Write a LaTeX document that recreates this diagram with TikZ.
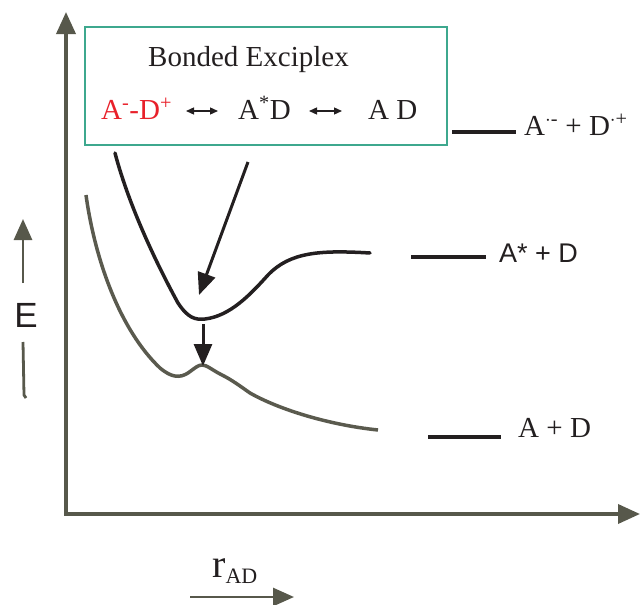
\documentclass[tikz,border=0pt]{standalone}
\usepackage{fontspec}
\setmainfont{Liberation Serif}
\newfontfamily\sansf{Liberation Sans}
\usetikzlibrary{arrows.meta}
\definecolor{axisgray}{HTML}{57584B}
\definecolor{curvegray}{HTML}{5A5A4E}
\definecolor{curveblack}{HTML}{231F20}
\definecolor{boxteal}{HTML}{3EA88E}
\definecolor{exred}{HTML}{E8202A}
\begin{document}
\begin{tikzpicture}[x=1pt,y=-1pt,
  axis/.style={draw=axisgray,line width=3.6pt,-{Triangle[length=22pt,width=19pt]}},
  smallaxis/.style={draw=axisgray,line width=2.8pt,-{Triangle[length=21pt,width=18pt]}},
  blackarrow/.style={draw=curveblack,line width=3pt,-{Triangle[length=22pt,width=18pt]}},
  resarrow/.style={draw=curveblack,line width=1.3pt,{Triangle[length=8pt,width=7pt]}-{Triangle[length=8pt,width=7pt]}},
  level/.style={draw=curveblack,line width=3.4pt},
  serif/.style={inner sep=0pt,font=\fontsize{29}{34}\selectfont,text=curveblack},
  sans/.style={inner sep=0pt,font=\sansf\fontsize{27}{32}\selectfont,text=curveblack},
]
\useasboundingbox (0,0) rectangle (640,605);
% axes
\coordinate (origin) at (66,514);
\coordinate (ytop) at (66,12);
\coordinate (xend) at (640,514);
\draw[axis] (origin) -- (ytop);
\draw[axis] ([xshift=-1.8pt]origin) -- (xend);
% box
\node[draw=boxteal,line width=1.6pt,anchor=north west,minimum width=362pt,minimum height=118pt,inner sep=0pt] (box) at (84,26) {};
\node[serif,anchor=base west] (title) at (148,66) {Bonded Exciplex};
\node[serif,anchor=base west,text=exred] (ion) at (101,119) {A\textsuperscript{-}-D\textsuperscript{+}};
\node[serif,anchor=base west] (astd) at (238,119) {A\textsuperscript{*}D};
\node[serif,anchor=base west] (ad) at (368,119) {A D};
\coordinate (r1a) at (186,111); \coordinate (r1b) at (218,111);
\draw[resarrow] (r1a) -- (r1b);
\coordinate (r2a) at (309,111); \coordinate (r2b) at (342,111);
\draw[resarrow] (r2a) -- (r2b);
% curves
\draw[curveblack,line width=3.5pt,line cap=round] (115,153) .. controls (130,210) and (160,270) .. (178,303) .. controls (188,318) and (195,320) .. (205,319) .. controls (230,316) and (250,295) .. (268,275) .. controls (290,252) and (320,250) .. (370,253);
\draw[curvegray,line width=3.5pt] (86,195) .. controls (95,260) and (120,330) .. (160,368) .. controls (172,378) and (180,378) .. (188,373) .. controls (195,368) and (198,365) .. (202,365) .. controls (207,365) and (212,370) .. (222,375) .. controls (232,380) and (240,386) .. (250,393) .. controls (280,410) and (330,425) .. (378,430);
% arrows
\coordinate (a1s) at (248,162);
\coordinate (a1e) at (199,295);
\draw[blackarrow] (a1s) -- (a1e);
\coordinate (a2s) at (203,324);
\coordinate (a2e) at (203,366);
\draw[blackarrow] (a2s) -- (a2e);
% levels
\coordinate (l1a) at (452,132); \coordinate (l1b) at (516,132);
\draw[level] (l1a) -- (l1b);
\node[serif,anchor=base west] (ion2) at (524,135) {A\textsuperscript{$\cdot$-} + D\textsuperscript{$\cdot$+}};
\coordinate (l2a) at (411,257); \coordinate (l2b) at (486,257);
\draw[level] (l2a) -- (l2b);
\node[sans,anchor=base west] (exc) at (499,262) {A* + D};
\coordinate (l3a) at (428,437); \coordinate (l3b) at (501,437);
\draw[level] (l3a) -- (l3b);
\node[serif,anchor=base west] (gs) at (518,437) {A + D};
% E axis label
\coordinate (e1) at (23,283);
\coordinate (e2) at (23,219);
\draw[smallaxis] (e1) -- (e2);
\node[inner sep=0pt,anchor=base,font=\sansf\fontsize{35}{40}\selectfont,text=curveblack] (E) at (26,327) {E};
\coordinate (e3) at (23,342);
\coordinate (e4) at (24,395);
\coordinate (e5) at (26,398);
\draw[draw=axisgray,line width=2.8pt] (e3) -- (e4) -- (e5);
% r axis label
\node[inner sep=0pt,anchor=base west,text=curveblack] (r) at (212,577) {\fontsize{40}{44}\selectfont r\raisebox{-6pt}{\fontsize{22}{26}\selectfont AD}};
\coordinate (r1) at (190,597);
\coordinate (r2) at (294,597);
\draw[smallaxis] (r1) -- (r2);
\end{tikzpicture}
\end{document}
